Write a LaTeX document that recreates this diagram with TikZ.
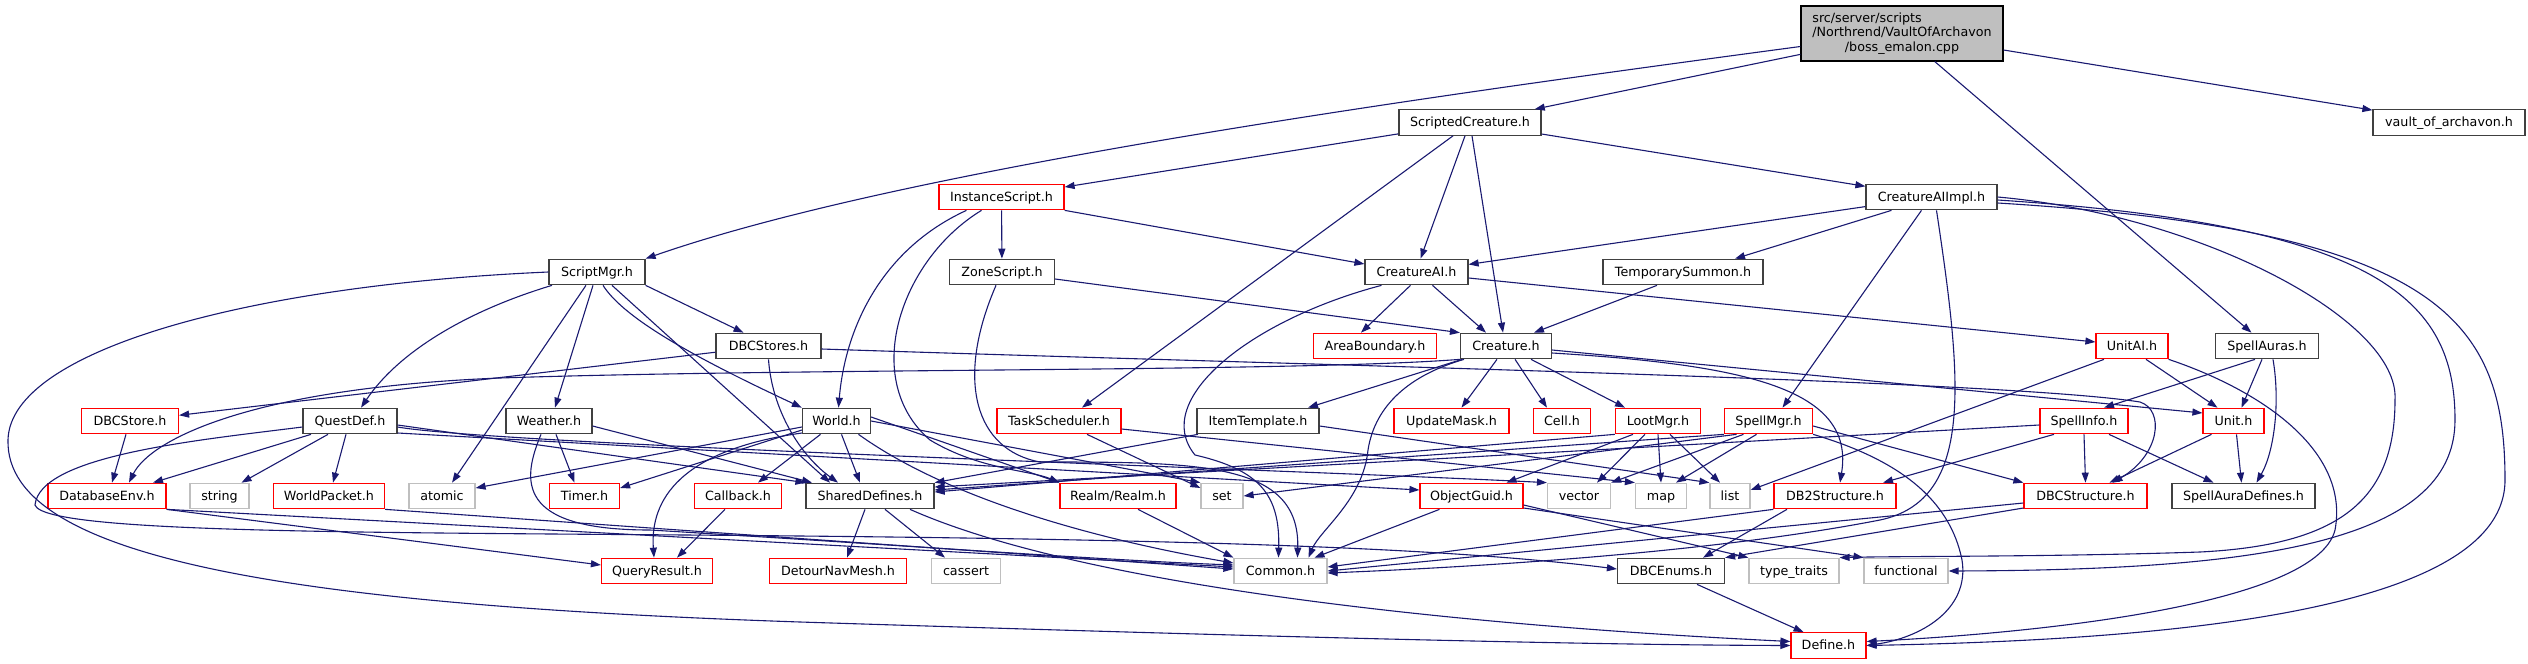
\documentclass[tikz,border=0pt]{standalone}
\usepackage{fontspec}
\setmainfont{DejaVu Sans}
\usetikzlibrary{arrows.meta}
\definecolor{edgeblue}{HTML}{191970}
\definecolor{nodegrey}{HTML}{404040}
\definecolor{sysgrey}{HTML}{BFBFBF}

\begin{document}
\begin{tikzpicture}[x=1pt, y=-1pt, >={Triangle[length=10pt, width=7pt]},
    hdr/.style={draw=nodegrey, line width=1.2pt, inner sep=0pt, minimum height=25.5pt, text height=10pt, text depth=2pt, font=\fontsize{12.7}{15}\selectfont},
    trunc/.style={hdr, draw=red},
    sys/.style={hdr, draw=sysgrey},
    rootfile/.style={draw=black, fill=sysgrey, line width=1.2pt, inner sep=0pt, align=center, font=\fontsize{12.7}{14.5}\selectfont},
    inc/.style={->, draw=edgeblue, line width=1.1pt}]
        \useasboundingbox (0,0) rectangle (2528,664);
        \node[rootfile, minimum width=202pt, minimum height=55pt] (boss) at (1902,33.5) {\rlap{src/server/scripts}\phantom{/Northrend/VaultOfArchavon}\\/Northrend/VaultOfArchavon\\/boss\_emalon.cpp};
        \node[hdr, minimum width=142pt] (ScriptedCreature) at (1470,122.5) {ScriptedCreature.h};
        \node[hdr, minimum width=152pt] (vault) at (2449,122.5) {vault\_of\_archavon.h};
        \node[trunc, minimum width=125pt] (InstanceScript) at (1001.5,197) {InstanceScript.h};
        \node[hdr, minimum width=131pt] (CreatureAIImpl) at (1931.5,197) {CreatureAIImpl.h};
        \node[hdr, minimum width=96pt] (ScriptMgr) at (597,272) {ScriptMgr.h};
        \node[hdr, minimum width=105pt] (ZoneScript) at (1002,272) {ZoneScript.h};
        \node[hdr, minimum width=103pt] (CreatureAI) at (1416.5,272) {CreatureAI.h};
        \node[hdr, minimum width=160pt] (TemporarySummon) at (1683,272) {TemporarySummon.h};
        \node[hdr, minimum width=105pt] (DBCStores) at (768.5,346) {DBCStores.h};
        \node[trunc, minimum width=123pt] (AreaBoundary) at (1375,346) {AreaBoundary.h};
        \node[hdr, minimum width=91pt] (Creature) at (1506,346) {Creature.h};
        \node[trunc, minimum width=72pt] (UnitAI) at (2132,346) {UnitAI.h};
        \node[hdr, minimum width=103pt] (SpellAuras) at (2267,346) {SpellAuras.h};
        \node[trunc, minimum width=97pt] (DBCStore) at (130,421) {DBCStore.h};
        \node[hdr, minimum width=94pt] (QuestDef) at (350,421) {QuestDef.h};
        \node[hdr, minimum width=86pt] (Weather) at (549,421) {Weather.h};
        \node[hdr, minimum width=68pt] (World) at (836.5,421) {World.h};
        \node[trunc, minimum width=124pt] (TaskScheduler) at (1059,421) {TaskScheduler.h};
        \node[hdr, minimum width=122pt] (ItemTemplate) at (1258,421) {ItemTemplate.h};
        \node[trunc, minimum width=115pt] (UpdateMask) at (1451.5,421) {UpdateMask.h};
        \node[trunc, minimum width=57pt] (Cell) at (1562,421) {Cell.h};
        \node[trunc, minimum width=85pt] (LootMgr) at (1658,421) {LootMgr.h};
        \node[trunc, minimum width=88pt] (SpellMgr) at (1768.5,421) {SpellMgr.h};
        \node[trunc, minimum width=88pt] (SpellInfo) at (2084,421) {SpellInfo.h};
        \node[trunc, minimum width=61pt] (Unit) at (2233.5,421) {Unit.h};
        \node[trunc, minimum width=118pt] (DatabaseEnv) at (107,496) {DatabaseEnv.h};
        \node[sys, minimum width=59pt] (string) at (219.5,496) {string};
        \node[trunc, minimum width=111pt] (WorldPacket) at (329,496) {WorldPacket.h};
        \node[sys, minimum width=66pt] (atomic) at (442,496) {atomic};
        \node[trunc, minimum width=70pt] (Timer) at (584.5,496) {Timer.h};
        \node[trunc, minimum width=87pt] (Callback) at (738,496) {Callback.h};
        \node[hdr, minimum width=128pt] (SharedDefines) at (870,496) {SharedDefines.h};
        \node[trunc, minimum width=116pt] (Realm) at (1118,496) {Realm/Realm.h};
        \node[sys, minimum width=42pt] (set) at (1222,496) {set};
        \node[trunc, minimum width=103pt] (ObjectGuid) at (1471.5,496) {ObjectGuid.h};
        \node[sys, minimum width=63pt] (vector) at (1579,496) {vector};
        \node[sys, minimum width=51pt] (map) at (1661,496) {map};
        \node[sys, minimum width=40pt] (list) at (1730,496) {list};
        \node[trunc, minimum width=122pt] (DB2Structure) at (1835,496) {DB2Structure.h};
        \node[trunc, minimum width=123pt] (DBCStructure) at (2085.5,496) {DBCStructure.h};
        \node[hdr, minimum width=143pt] (SpellAuraDefines) at (2243.5,496) {SpellAuraDefines.h};
        \node[trunc, minimum width=111pt] (QueryResult) at (657,571) {QueryResult.h};
        \node[trunc, minimum width=137pt] (DetourNavMesh) at (838,571) {DetourNavMesh.h};
        \node[sys, minimum width=69pt] (cassert) at (966,571) {cassert};
        \node[sys, minimum width=93pt] (Common) at (1280.5,571) {Common.h};
        \node[hdr, minimum width=107pt] (DBCEnums) at (1671,571) {DBCEnums.h};
        \node[sys, minimum width=90pt] (typetraits) at (1794,571) {type\_traits};
        \node[sys, minimum width=84pt] (functional) at (1906,571) {functional};
        \node[trunc, minimum width=75pt] (Define) at (1828.5,645.5) {Define.h};

        \draw[inc] ([yshift=-13pt]boss.west) .. controls (1400,100) and (900,170) .. (ScriptMgr.north east);
        \draw[inc] (boss) -- (ScriptedCreature);
        \draw[inc] (boss) -- (SpellAuras);
        \draw[inc] (boss) -- (vault);

        \draw[inc] (ScriptedCreature) -- (InstanceScript);
        \draw[inc] (ScriptedCreature) -- (CreatureAIImpl);
        \draw[inc] ([xshift=-5pt]ScriptedCreature.south) -- ([xshift=4pt]CreatureAI.north);
        \draw[inc] ([xshift=2pt]ScriptedCreature.south) -- ([xshift=-3pt]Creature.north);
        \draw[inc] ([xshift=-17pt]ScriptedCreature.south) -- ([xshift=23pt]TaskScheduler.north);

        \draw[inc] (InstanceScript) -- (ZoneScript);
        \draw[inc] (InstanceScript.south east) -- ([yshift=8pt]CreatureAI.west);
        \draw[inc] ([xshift=-35pt]InstanceScript.south) .. controls (880,250) and (845,330) .. ([xshift=2pt]World.north);
        \draw[inc] ([xshift=-20pt]InstanceScript.south) .. controls (900,260) and (860,380) .. (930,440) .. controls (980,470) and (1030,470) .. (Realm.north west);

        \draw[inc] ([yshift=-7pt]ZoneScript.east) -- (Creature.north west);
        \draw[inc] ([xshift=-6pt]ZoneScript.south) .. controls (955,380) and (975,450) .. (1040,462) .. controls (1200,462) and (1300,462) .. ([xshift=17pt]Common.north);

        \draw[inc] (CreatureAIImpl) -- (CreatureAI);
        \draw[inc] ([xshift=-40pt]CreatureAIImpl.south) -- ([xshift=52pt]TemporarySummon.north);
        \draw[inc] ([xshift=-10pt]CreatureAIImpl.south) -- ([xshift=14pt]SpellMgr.north);
        \draw[inc] ([xshift=5pt]CreatureAIImpl.south) .. controls (1962,380) and (1975,500) .. (1880,520) .. controls (1700,555) and (1450,568) .. ([yshift=-2pt]Common.east);
        \draw[inc] (CreatureAIImpl.east) .. controls (2200,215) and (2400,320) .. (2395,400) .. controls (2395,500) and (2340,545) .. (2200,552) .. controls (2050,557) and (1900,556) .. (typetraits.north east);
        \draw[inc] ([yshift=-3pt]CreatureAIImpl.east) .. controls (2380,225) and (2455,300) .. (2455,420) .. controls (2455,545) and (2250,570) .. (functional.east);
        \draw[inc] ([yshift=-6pt]CreatureAIImpl.east) .. controls (2440,230) and (2505,320) .. (2505,480) .. controls (2505,615) and (2150,640) .. (Define.east);

        \draw[inc] ([xshift=-26pt]TemporarySummon.south) -- ([xshift=28pt]Creature.north);

        \draw[inc] ([xshift=16pt]CreatureAI.south) -- ([xshift=-20pt]Creature.north);
        \draw[inc] ([xshift=-6pt]CreatureAI.south) -- ([xshift=-14pt]AreaBoundary.north);
        \draw[inc] ([yshift=-6pt]CreatureAI.east) -- ([yshift=4pt]UnitAI.west);
        \draw[inc] ([xshift=-35pt]CreatureAI.south) .. controls (1250,320) and (1150,400) .. (1195,455) .. controls (1260,470) and (1280,495) .. ([xshift=-2pt]Common.north);

        \draw[inc] (DBCStores) -- (DBCStore);
        \draw[inc] (DBCStores.south) .. controls (772,410) and (800,455) .. ([xshift=-32pt]SharedDefines.north);
        \draw[inc] ([yshift=-3pt]DBCStores.east) .. controls (1300,365) and (2000,380) .. (2140,402) .. controls (2165,410) and (2160,455) .. ([xshift=27pt]DBCStructure.north);

        \draw[inc] ([xshift=-44pt]Creature.south) -- ([xshift=50pt]ItemTemplate.north);
        \draw[inc] ([xshift=-9pt]Creature.south) -- ([xshift=10pt]UpdateMask.north);
        \draw[inc] ([xshift=9pt]Creature.south) -- ([xshift=-15pt]Cell.north);
        \draw[inc] ([xshift=25pt]Creature.south) -- ([xshift=-33pt]LootMgr.north);
        \draw[inc] ([yshift=-4pt]Creature.east) -- ([yshift=8pt]Unit.west);
        \draw[inc] ([yshift=-7pt]Creature.east) .. controls (1750,365) and (1855,390) .. ([xshift=5pt]DB2Structure.north);
        \draw[inc] ([xshift=-42pt]Creature.south) .. controls (1410,375) and (1375,405) .. (1368,450) .. controls (1363,500) and (1320,530) .. ([xshift=28pt]Common.north);
        \draw[inc] (Creature.south west) .. controls (1300,372) and (800,368) .. (500,378) .. controls (250,388) and (150,440) .. ([xshift=22pt]DatabaseEnv.north);

        \draw[inc] ([xshift=14pt]UnitAI.south) -- ([xshift=-16pt]Unit.north);
        \draw[inc] ([xshift=-28pt]UnitAI.south) -- ([yshift=6pt]list.east);
        \draw[inc] (UnitAI.south east) .. controls (2260,390) and (2350,450) .. (2335,530) .. controls (2315,610) and (2000,635) .. ([yshift=4pt]Define.east);

        \draw[inc] ([xshift=-12pt]SpellAuras.south) -- ([xshift=20pt]SpellInfo.north);
        \draw[inc] ([xshift=-5pt]SpellAuras.south) -- ([xshift=8pt]Unit.north);
        \draw[inc] ([xshift=6pt]SpellAuras.south) .. controls (2280,400) and (2275,450) .. ([xshift=13pt]SpellAuraDefines.north);

        \draw[inc] ([xshift=-4pt]DBCStore.south) -- ([xshift=5pt]DatabaseEnv.north);

        \draw[inc] ([xshift=-39pt]QuestDef.south) -- ([xshift=46pt]DatabaseEnv.north);
        \draw[inc] ([xshift=-22pt]QuestDef.south) -- ([xshift=22pt]string.north);
        \draw[inc] ([xshift=-4pt]QuestDef.south) -- ([xshift=4pt]WorldPacket.north);
        \draw[inc] ([yshift=-4pt]QuestDef.east) -- (SharedDefines.north west);
        \draw[inc] ([yshift=-6pt]QuestDef.east) .. controls (500,445) and (1300,470) .. (vector.north west);
        \draw[inc] ([yshift=-12pt]QuestDef.east) -- ([yshift=6pt]ObjectGuid.west);
        \draw[inc] ([yshift=-6pt]QuestDef.west) .. controls (200,440) and (40,455) .. (35,505) .. controls (45,535) and (400,532) .. (800,536) .. controls (1200,540) and (1450,548) .. ([yshift=2pt]DBCEnums.west);

        \draw[inc] ([xshift=7pt]Weather.south) -- ([xshift=-10pt]Timer.north);
        \draw[inc] ([yshift=-5pt]Weather.east) -- ([xshift=-58pt]SharedDefines.north);
        \draw[inc] ([xshift=-8pt]Weather.south) .. controls (522,480) and (515,530) .. (650,530) .. controls (900,545) and (1100,560) .. ([yshift=6pt]Common.west);

        \draw[inc] ([yshift=-6pt]World.west) -- ([yshift=8pt]atomic.east);
        \draw[inc] ([yshift=-9pt]World.west) -- ([yshift=8pt]Timer.east);
        \draw[inc] ([yshift=-12pt]World.west) .. controls (680,450) and (650,500) .. ([xshift=-3pt]QueryResult.north);
        \draw[inc] ([xshift=-16pt]World.south) -- ([xshift=20pt]Callback.north);
        \draw[inc] ([xshift=5pt]World.south) -- ([xshift=-10pt]SharedDefines.north);
        \draw[inc] ([yshift=4pt]World.east) -- (Realm.north west);
        \draw[inc] (World.east) -- (set.north west);
        \draw[inc] ([xshift=22pt]World.south) .. controls (950,500) and (1100,540) .. ([yshift=8pt]Common.west);

        \draw[inc] ([xshift=28pt]TaskScheduler.south) -- ([yshift=8pt]set.west);
        \draw[inc] ([yshift=-8pt]TaskScheduler.east) -- (map.north west);

        \draw[inc] ([xshift=-60pt]ItemTemplate.south) -- (SharedDefines.north east);
        \draw[inc] ([yshift=-5pt]ItemTemplate.east) -- (list.north west);

        \draw[inc] (LootMgr.south west) -- ([yshift=4pt]SharedDefines.east);
        \draw[inc] ([xshift=-25pt]LootMgr.south) -- ([xshift=35pt]ObjectGuid.north);
        \draw[inc] ([xshift=-13pt]LootMgr.south) -- ([xshift=18pt]vector.north);
        \draw[inc] (LootMgr.south) -- (map.north);
        \draw[inc] ([xshift=12pt]LootMgr.south) -- ([xshift=-10pt]list.north);

        \draw[inc] (SpellMgr.south west) -- ([yshift=6pt]SharedDefines.east);
        \draw[inc] ([xshift=-32pt]SpellMgr.south) -- (set.east);
        \draw[inc] ([xshift=-25pt]SpellMgr.south) -- (vector.north east);
        \draw[inc] ([xshift=-12pt]SpellMgr.south) -- ([xshift=15pt]map.north);
        \draw[inc] ([yshift=-5pt]SpellMgr.east) -- (DBCStructure.north west);
        \draw[inc] (SpellMgr.south east) .. controls (1900,460) and (1950,500) .. (1962,560) .. controls (1970,610) and (1920,638) .. (Define.east);

        \draw[inc] ([yshift=-4pt]SpellInfo.west) -- ([yshift=9pt]SharedDefines.east);
        \draw[inc] ([xshift=-30pt]SpellInfo.south) -- ([xshift=48pt]DB2Structure.north);
        \draw[inc] (SpellInfo.south) -- (DBCStructure.north);
        \draw[inc] ([xshift=25pt]SpellInfo.south) -- ([xshift=-30pt]SpellAuraDefines.north);

        \draw[inc] ([xshift=-22pt]Unit.south) -- ([xshift=24pt]DBCStructure.north);
        \draw[inc] ([xshift=3pt]Unit.south) -- ([xshift=-2pt]SpellAuraDefines.north);

        \draw[inc] (DatabaseEnv.south east) -- ([yshift=6pt]QueryResult.west);
        \draw[inc] (DatabaseEnv.south east) -- ([yshift=4pt]Common.west);
        \draw[inc] (WorldPacket.south east) -- ([yshift=2pt]Common.west);
        \draw[inc] ([xshift=-13pt]Callback.south) -- ([xshift=20pt]QueryResult.north);
        \draw[inc] ([xshift=-5pt]SharedDefines.south) -- ([xshift=9pt]DetourNavMesh.north);
        \draw[inc] ([xshift=15pt]SharedDefines.south) -- ([xshift=-21pt]cassert.north);
        \draw[inc] ([xshift=40pt]SharedDefines.south) .. controls (1080,585) and (1450,625) .. ([yshift=4pt]Define.west);
        \draw[inc] ([xshift=20pt]Realm.south) -- (Common.north west);
        \draw[inc] ([xshift=-32pt]ObjectGuid.south) -- ([xshift=34pt]Common.north);
        \draw[inc] ([yshift=-9pt]ObjectGuid.east) -- (typetraits.north west);
        \draw[inc] ([yshift=-12pt]ObjectGuid.east) -- (functional.north west);
        \draw[inc] (DB2Structure.south west) -- ([yshift=4pt]Common.east);
        \draw[inc] ([xshift=-48pt]DB2Structure.south) -- ([xshift=32pt]DBCEnums.north);
        \draw[inc] ([yshift=-7pt]DBCStructure.west) -- (Common.east);
        \draw[inc] ([yshift=-12pt]DBCStructure.west) -- (DBCEnums.north east);
        \draw[inc] ([xshift=26pt]DBCEnums.south) -- ([xshift=-25pt]Define.north);

        \draw[inc] (ScriptMgr.west) .. controls (250,285) and (10,350) .. (8,440) .. controls (5,560) and (300,605) .. (800,622) .. controls (1300,638) and (1600,645) .. (Define.west);
        \draw[inc] ([xshift=-45pt]ScriptMgr.south) .. controls (470,310) and (400,350) .. ([xshift=11pt]QuestDef.north);
        \draw[inc] ([xshift=-11pt]ScriptMgr.south) -- ([xshift=10pt]atomic.north);
        \draw[inc] ([xshift=-4pt]ScriptMgr.south) -- ([xshift=6pt]Weather.north);
        \draw[inc] ([xshift=6pt]ScriptMgr.south) .. controls (625,320) and (700,360) .. (World.north west);
        \draw[inc] ([xshift=15pt]ScriptMgr.south) -- ([xshift=-40pt]SharedDefines.north);
        \draw[inc] (ScriptMgr.south east) -- ([xshift=-25pt]DBCStores.north);
      \end{tikzpicture}
\end{document}
